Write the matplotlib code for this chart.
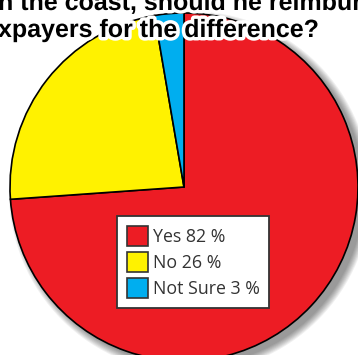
import matplotlib.pyplot as plt
import matplotlib.patheffects as pe
from matplotlib.patches import Circle

# Poll results (values as printed; pie normalises them)
labels = ["Yes", "No", "Not Sure"]
values = [82, 26, 3]
colors = ["#ED1C24", "#FFF200", "#00AEEF"]
title_lines = ["n the coast, should he reimbur", "xpayers for the difference?"]

W, H = 358, 355
fig = plt.figure(figsize=(W / 100, H / 100), dpi=100)
fig.patch.set_facecolor("white")

# pie centre ~ (184, 187) px, radius ~174 px
cx, cy, r = 184, 187, 174
ax = fig.add_axes([(cx - r) / W, (H - cy - r) / H, 2 * r / W, 2 * r / H])

# soft drop shadow to the lower right
px = 1 / r
for i in range(8):
    ax.add_patch(Circle((6 * px, -5 * px), 1 + i * px, color="black",
                        alpha=0.06, lw=0, zorder=0, clip_on=False))

wedges, _ = ax.pie(values, colors=colors, startangle=90, counterclock=False,
                   radius=1, center=(0, 0), frame=True,
                   wedgeprops=dict(edgecolor="black", linewidth=1.2))
for w in wedges:
    w.set_clip_on(False)
    w.set_zorder(2)
ax.set_xlim(-1, 1)
ax.set_ylim(-1, 1)
ax.axis("off")

leg = ax.legend(wedges, [f"{l} {v} %" for l, v in zip(labels, values)],
                loc="upper left", bbox_to_anchor=(117 / W, 1 - 216 / H),
                bbox_transform=fig.transFigure, borderaxespad=0,
                fancybox=False, framealpha=1, edgecolor="#333333",
                handlelength=1.2, handleheight=1.4, handletextpad=0.25,
                labelspacing=0.3, borderpad=0.55,
                prop=dict(family="Open Sans", size=12.8))
leg.get_frame().set_linewidth(1.3)
for t in leg.get_texts():
    t.set_color("#333333")
for h in leg.legend_handles:
    h.set_edgecolor("#333333")
    h.set_linewidth(1.2)

stroke = [pe.withStroke(linewidth=5, foreground="white")]
fig.text(-2 / W, 1 - 10 / H, title_lines[0], ha="left", va="baseline",
         fontsize=18, fontweight="bold", family="Liberation Sans",
         path_effects=stroke)
fig.text(-2 / W, 1 - 37 / H, title_lines[1], ha="left", va="baseline",
         fontsize=18, fontweight="bold", family="Liberation Sans",
         path_effects=stroke)

fig.savefig("out.png", dpi=100)
